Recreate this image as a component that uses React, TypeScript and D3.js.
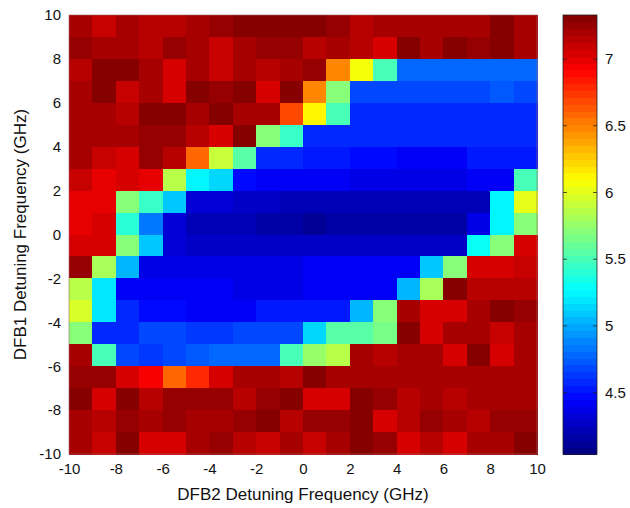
import { useEffect, useRef } from 'react';
import * as d3 from 'd3';

// x (DFB2) and y (DFB1) cell edges, 1 GHz steps
const xEdges = d3.range(-10, 11, 1);
const yEdges = d3.range(-10, 11, 1);
const xTicks = [-10, -8, -6, -4, -2, 0, 2, 4, 6, 8, 10];
const yTicks = [-10, -8, -6, -4, -2, 0, 2, 4, 6, 8, 10];
const cbarTicks = [4.5, 5, 5.5, 6, 6.5, 7];
const cMin = 4.04;
const cMax = 7.33;

// rows from top (y = 10..9) to bottom (y = -9..-10), columns from x = -10 to 10
const values = [
  [7.19, 7.09, 7.19, 7.13, 7.13, 7.19, 7.25, 7.30, 7.30, 7.30, 7.30, 7.25, 7.13, 7.19, 7.19, 7.21, 7.21, 7.21, 7.30, 7.21],
  [7.25, 7.19, 7.19, 7.16, 7.25, 7.19, 7.09, 7.19, 7.24, 7.24, 7.13, 7.19, 7.13, 7.05, 7.30, 7.19, 7.30, 7.24, 7.30, 7.19],
  [7.13, 7.30, 7.30, 7.19, 7.06, 7.19, 7.09, 7.19, 7.17, 7.19, 7.25, 6.50, 6.07, 5.50, 4.78, 4.78, 4.78, 4.78, 4.78, 4.80],
  [7.19, 7.30, 7.09, 7.19, 7.06, 7.30, 7.25, 7.30, 7.07, 7.30, 6.50, 5.72, 4.70, 4.70, 4.70, 4.70, 4.70, 4.70, 4.73, 4.70],
  [7.19, 7.19, 7.17, 7.30, 7.30, 7.19, 7.30, 7.19, 7.19, 6.67, 6.10, 5.52, 4.58, 4.58, 4.58, 4.58, 4.58, 4.58, 4.58, 4.58],
  [7.21, 7.21, 7.19, 7.25, 7.25, 7.17, 7.07, 7.30, 5.72, 5.45, 4.60, 4.58, 4.58, 4.58, 4.58, 4.58, 4.58, 4.58, 4.58, 4.58],
  [7.22, 7.09, 7.03, 7.25, 7.17, 6.60, 5.93, 5.55, 4.58, 4.58, 4.55, 4.55, 4.48, 4.48, 4.45, 4.45, 4.45, 4.52, 4.52, 4.52],
  [7.09, 7.02, 7.07, 7.02, 5.85, 5.25, 5.17, 4.48, 4.45, 4.45, 4.42, 4.42, 4.38, 4.38, 4.38, 4.38, 4.38, 4.42, 4.42, 5.50],
  [7.01, 7.01, 5.69, 5.45, 5.10, 4.30, 4.30, 4.28, 4.26, 4.22, 4.22, 4.22, 4.22, 4.24, 4.24, 4.24, 4.22, 4.24, 5.27, 6.00],
  [7.01, 7.03, 5.42, 4.86, 4.32, 4.22, 4.22, 4.20, 4.17, 4.17, 4.10, 4.15, 4.17, 4.17, 4.17, 4.17, 4.17, 4.35, 5.27, 5.69],
  [7.03, 7.03, 5.72, 5.10, 4.30, 4.28, 4.25, 4.25, 4.25, 4.25, 4.27, 4.27, 4.27, 4.27, 4.27, 4.27, 4.27, 5.30, 5.72, 7.03],
  [7.25, 5.82, 5.06, 4.38, 4.38, 4.38, 4.38, 4.35, 4.35, 4.35, 4.40, 4.40, 4.40, 4.40, 4.40, 5.10, 5.72, 7.03, 7.03, 7.09],
  [5.88, 5.22, 4.40, 4.40, 4.40, 4.40, 4.40, 4.36, 4.36, 4.36, 4.42, 4.42, 4.42, 4.42, 5.06, 5.82, 7.30, 7.16, 7.16, 7.13],
  [5.97, 5.22, 4.58, 4.48, 4.48, 4.43, 4.43, 4.40, 4.52, 4.52, 4.52, 4.52, 5.06, 5.69, 7.19, 7.07, 7.07, 7.19, 7.30, 7.24],
  [5.72, 4.58, 4.58, 4.66, 4.66, 4.62, 4.62, 4.66, 4.66, 4.66, 5.17, 5.55, 5.55, 5.65, 7.30, 7.07, 7.19, 7.19, 7.09, 7.19],
  [7.19, 5.48, 4.66, 4.62, 4.70, 4.73, 4.78, 4.78, 4.80, 5.48, 5.77, 5.85, 7.19, 7.17, 7.19, 7.19, 7.03, 7.30, 7.03, 7.19],
  [7.25, 7.25, 7.03, 6.97, 6.60, 6.80, 7.07, 7.19, 7.19, 7.13, 7.30, 7.19, 7.19, 7.19, 7.19, 7.21, 7.21, 7.19, 7.19, 7.19],
  [7.30, 7.07, 7.30, 7.13, 7.25, 7.25, 7.25, 7.17, 7.25, 7.30, 7.07, 7.07, 7.30, 7.25, 7.13, 7.21, 7.13, 7.19, 7.19, 7.19],
  [7.19, 7.17, 7.25, 7.19, 7.25, 7.19, 7.19, 7.25, 7.30, 7.13, 7.25, 7.25, 7.30, 7.07, 7.13, 7.25, 7.19, 7.13, 7.25, 7.25],
  [7.19, 7.09, 7.30, 7.07, 7.07, 7.19, 7.25, 7.13, 7.09, 7.19, 7.09, 7.19, 7.30, 7.25, 7.07, 7.17, 7.07, 7.19, 7.19, 7.30],
];

// matlab-ish jet, 64 levels
const jet = (t: number) => {
  const k = Math.min(63, Math.max(0, Math.floor(t * 64)));
  const u = (k + 0.5) / 64;
  const c = (v: number) => Math.round(255 * Math.max(0, Math.min(1, v)));
  const r = c(1.5 - Math.abs(4 * u - 3));
  const g = c(1.5 - Math.abs(4 * u - 2));
  const b = c(1.5 - Math.abs(4 * u - 1));
  return `rgb(${r},${g},${b})`;
};

const App = () => {
  const ref = useRef<SVGSVGElement | null>(null);

  useEffect(() => {
    const svg = d3.select(ref.current);
    svg.selectAll('*').remove();

    const left = 69, right = 537, top = 15, bottom = 454;
    const font = 'Liberation Sans, Arial, sans-serif';

    const x = d3.scaleLinear().domain([-10, 10]).range([left, right]);
    const y = d3.scaleLinear().domain([-10, 10]).range([bottom, top]);
    const cnorm = d3.scaleLinear().domain([cMin, cMax]).range([0, 1]).clamp(true);

    // heatmap cells
    const cells: { x0: number; x1: number; y0: number; y1: number; v: number }[] = [];
    values.forEach((row, i) => {
      row.forEach((v, j) => {
        cells.push({ x0: xEdges[j], x1: xEdges[j + 1], y0: yEdges[19 - i], y1: yEdges[20 - i], v });
      });
    });
    svg.append('g')
      .selectAll('rect')
      .data(cells)
      .join('rect')
      .attr('x', d => x(d.x0))
      .attr('y', d => y(d.y1))
      .attr('width', d => x(d.x1) - x(d.x0) + 0.5)
      .attr('height', d => y(d.y0) - y(d.y1) + 0.5)
      .attr('fill', d => jet(cnorm(d.v)))
      .attr('shape-rendering', 'crispEdges');

    svg.append('rect')
      .attr('x', left).attr('y', top)
      .attr('width', right - left).attr('height', bottom - top)
      .attr('fill', 'none').attr('stroke', '#9a6a6a').attr('stroke-width', 0.6);

    // axes (plain hyphen minus like matlab)
    const fmt = (d: d3.NumberValue) => String(d);
    const xAxis = svg.append('g')
      .attr('transform', `translate(0,${bottom})`)
      .call(d3.axisBottom(x).tickValues(xTicks).tickSize(0).tickPadding(9).tickFormat(fmt));
    const yAxis = svg.append('g')
      .attr('transform', `translate(${left},0)`)
      .call(d3.axisLeft(y).tickValues(yTicks).tickSize(0).tickPadding(8).tickFormat(fmt));
    [xAxis, yAxis].forEach(a => {
      a.select('.domain').remove();
      a.selectAll('text').attr('font-family', font).attr('font-size', 15).attr('fill', '#111');
    });

    svg.append('text')
      .attr('x', (left + right) / 2).attr('y', 500)
      .attr('text-anchor', 'middle')
      .attr('font-family', font).attr('font-size', 17).attr('fill', '#111')
      .text('DFB2 Detuning Frequency (GHz)');
    svg.append('text')
      .attr('transform', `translate(26,${(top + bottom) / 2}) rotate(-90)`)
      .attr('text-anchor', 'middle')
      .attr('font-family', font).attr('font-size', 17).attr('fill', '#111')
      .text('DFB1 Detuning Frequency (GHz)');

    // colorbar
    const cbL = 563, cbR = 597;
    const cy = d3.scaleLinear().domain([cMin, cMax]).range([bottom, top]);
    const levels = d3.range(64);
    svg.append('g')
      .selectAll('rect')
      .data(levels)
      .join('rect')
      .attr('x', cbL)
      .attr('width', cbR - cbL)
      .attr('y', k => cy(cMin + ((k + 1) / 64) * (cMax - cMin)))
      .attr('height', (bottom - top) / 64 + 0.6)
      .attr('fill', k => jet((k + 0.5) / 64))
      .attr('shape-rendering', 'crispEdges');
    svg.append('rect')
      .attr('x', cbL).attr('y', top)
      .attr('width', cbR - cbL).attr('height', bottom - top)
      .attr('fill', 'none').attr('stroke', '#222').attr('stroke-width', 0.8);

    const cb = svg.append('g').selectAll('g').data(cbarTicks).join('g');
    cb.append('line')
      .attr('x1', cbL).attr('x2', cbL + 4)
      .attr('y1', d => cy(d)).attr('y2', d => cy(d))
      .attr('stroke', '#222').attr('stroke-width', 0.8);
    cb.append('line')
      .attr('x1', cbR - 4).attr('x2', cbR)
      .attr('y1', d => cy(d)).attr('y2', d => cy(d))
      .attr('stroke', '#222').attr('stroke-width', 0.8);
    cb.append('text')
      .attr('x', cbR + 8)
      .attr('y', d => cy(d))
      .attr('dy', '0.35em')
      .attr('font-family', font).attr('font-size', 15).attr('fill', '#111')
      .text(d => String(d));
  }, []);

  return (
    <svg
      ref={ref}
      width={630}
      height={508}
      style={{ position: 'absolute', left: 0, top: 0, background: '#fff' }}
    />
  );
};

export default App;
